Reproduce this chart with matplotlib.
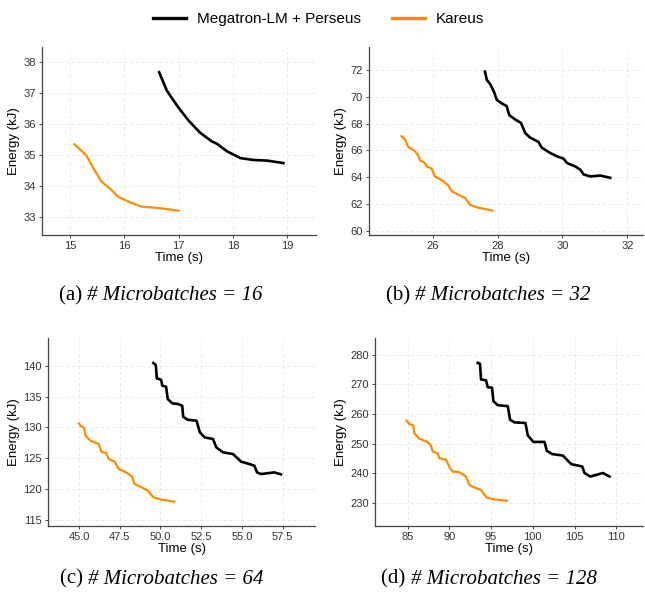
# energy vs. time frontier for four microbatch counts
import matplotlib
matplotlib.use("Agg")
import matplotlib.pyplot as plt
from matplotlib.lines import Line2D
import numpy as np

W, H = 645, 603

# (a) 16 microbatches
a_kar_t = [15.08, 15.30, 15.42, 15.57, 15.76, 15.88, 16.10, 16.31, 16.65, 16.99]
a_kar_e = [35.35, 34.98, 34.60, 34.15, 33.87, 33.65, 33.47, 33.33, 33.28, 33.20]
a_meg_t = [16.64, 16.78, 16.99, 17.18, 17.39, 17.61, 17.70, 17.89, 18.14, 18.38, 18.63, 18.93]
a_meg_e = [37.68, 37.09, 36.55, 36.12, 35.73, 35.44, 35.37, 35.12, 34.90, 34.84, 34.82, 34.74]

# (b) 32 microbatches
b_kar_t = [25.04, 25.15, 25.25, 25.45, 25.56, 25.61, 25.76, 25.81, 25.97, 26.07, 26.33,
           26.48, 26.59, 26.84, 27.00, 27.15, 27.36, 27.61, 27.84]
b_kar_e = [67.06, 66.81, 66.26, 65.96, 65.63, 65.26, 65.06, 64.81, 64.64, 64.06, 63.71,
           63.39, 62.96, 62.64, 62.46, 61.96, 61.76, 61.64, 61.51]
b_meg_t = [27.61, 27.67, 27.77, 27.89, 27.98, 28.13, 28.28, 28.36, 28.54, 28.72, 28.85,
           29.00, 29.26, 29.36, 29.62, 29.83, 30.03, 30.14, 30.39, 30.55, 30.65, 30.86,
           31.16, 31.47]
b_meg_e = [71.87, 71.25, 70.95, 70.37, 69.75, 69.50, 69.30, 68.63, 68.31, 68.05, 67.30,
           66.96, 66.63, 66.21, 65.81, 65.56, 65.39, 65.06, 64.81, 64.56, 64.21, 64.06,
           64.13, 63.96]

# (c) 64 microbatches
c_kar_t = [45.00, 45.10, 45.30, 45.41, 45.71, 46.22, 46.38, 46.67, 46.83, 47.20, 47.44,
           47.89, 48.25, 48.41, 48.86, 49.23, 49.57, 50.08, 50.85]
c_kar_e = [130.65, 130.27, 130.00, 128.65, 127.84, 127.30, 126.05, 125.84, 124.86, 124.43,
           123.24, 122.70, 122.05, 120.81, 120.27, 119.73, 118.65, 118.27, 117.95]
c_meg_t = [49.57, 49.72, 49.78, 50.04, 50.12, 50.35, 50.45, 50.73, 51.10, 51.34, 51.40,
           51.67, 52.22, 52.42, 52.72, 53.23, 53.43, 53.84, 54.45, 54.96, 55.47, 55.77,
           55.93, 56.18, 56.99, 57.40]
c_meg_e = [140.43, 140.10, 137.95, 137.73, 136.76, 136.60, 134.60, 133.90, 133.78, 133.51,
           131.73, 131.24, 131.08, 129.19, 128.38, 128.11, 126.76, 125.95, 125.68, 124.43,
           124.05, 123.78, 122.70, 122.43, 122.70, 122.38]

# (d) 128 microbatches
d_kar_t = [84.88, 85.20, 85.68, 85.80, 86.40, 87.40, 87.80, 88.00, 88.60, 88.80, 89.60,
           90.08, 90.40, 91.20, 92.00, 92.40, 93.20, 93.80, 94.48, 95.40, 96.88]
d_kar_e = [257.8, 256.7, 256.2, 253.6, 251.7, 250.6, 249.4, 247.4, 246.8, 245.1, 244.6,
           241.8, 240.6, 240.4, 238.9, 236.1, 235.0, 234.4, 231.8, 231.2, 230.7]
d_meg_t = [93.40, 93.68, 93.80, 94.40, 94.60, 95.12, 95.28, 95.80, 97.00, 97.28, 97.80,
           99.12, 99.40, 100.08, 101.40, 101.68, 102.32, 103.60, 104.60, 105.92, 106.20,
           106.88, 108.40, 109.20]
d_meg_e = [277.3, 277.0, 271.7, 271.4, 269.1, 268.9, 264.4, 263.0, 262.7, 258.1, 257.2,
           257.0, 252.8, 250.6, 250.6, 247.6, 246.5, 246.0, 243.1, 242.3, 240.1, 238.9,
           240.1, 238.9]

series_names = ["Megatron-LM + Perseus", "Kareus"]
colors = ["black", "#ff8c00"]
captions = ["(a) ", "(b) ", "(c) ", "(d) "]
microbatches = [16, 32, 64, 128]

plt.rcParams["font.family"] = "Liberation Sans"

fig = plt.figure(figsize=(W / 100, H / 100), dpi=100)


def add_ax(l, t, r, b):
    return fig.add_axes([l / W, 1 - b / H, (r - l) / W, (b - t) / H])


panels = [
    (add_ax(42, 47, 316, 235), a_meg_t, a_meg_e, a_kar_t, a_kar_e,
     (14.48, 19.53), (32.41, 38.5), np.arange(15, 20, 1), np.arange(33, 39, 1), "%d"),
    (add_ax(369, 47, 643, 235), b_meg_t, b_meg_e, b_kar_t, b_kar_e,
     (24.04, 32.48), (59.7, 73.7), np.arange(26, 33, 2), np.arange(60, 73, 2), "%d"),
    (add_ax(48, 338, 315, 526), c_meg_t, c_meg_e, c_kar_t, c_kar_e,
     (43.1, 59.49), (114.0, 144.5), np.arange(45, 58, 2.5), np.arange(115, 141, 5), "%.1f"),
    (add_ax(375, 338, 643, 526), d_meg_t, d_meg_e, d_kar_t, d_kar_e,
     (81.1, 113.2), (222.2, 285.7), np.arange(85, 111, 5), np.arange(230, 281, 10), "%d"),
]

for ax, mt, me, kt, ke, xl, yl, xt, yt, xfmt in panels:
    ax.plot(mt, me, color=colors[0], lw=1.9, solid_joinstyle="round")
    ax.plot(kt, ke, color=colors[1], lw=1.6, solid_joinstyle="round")
    ax.set_xlim(*xl)
    ax.set_ylim(*yl)
    ax.set_xticks(xt)
    ax.set_yticks(yt)
    ax.set_xticklabels([xfmt % v for v in xt])
    ax.grid(True, color="#e6e6e6", lw=0.6, ls=(0, (4, 3)))
    ax.set_axisbelow(True)
    for s in ["top", "right"]:
        ax.spines[s].set_visible(False)
    for s in ["left", "bottom"]:
        ax.spines[s].set_color("#444444")
        ax.spines[s].set_linewidth(0.9)
    ax.tick_params(length=2.5, width=0.7, color="#444444", labelsize=8,
                   labelcolor="#333333", pad=2)
    ax.set_xlabel("Time (s)", fontsize=9.5, labelpad=0.5)
    ax.set_ylabel("Energy (kJ)", fontsize=9.5, labelpad=2)

# legend across the top
handles = [Line2D([], [], color=c, lw=2.4) for c in colors]
fig.legend(handles, series_names, loc="center", bbox_to_anchor=(318.5 / W, 1 - 19 / H),
           ncol=2, frameon=False, fontsize=11, handlelength=2.2, handletextpad=0.7,
           columnspacing=2.0)

# subfigure captions: upright tag + italic body, centred as one line
renderer = fig.canvas.get_renderer()
cap_pos = [(161, 296), (488, 296), (162, 579), (489, 579)]
for tag, n, (xc, yc) in zip(captions, microbatches, cap_pos):
    t1 = fig.text(0, 0, tag, family="Liberation Serif", fontsize=15, va="center")
    t2 = fig.text(0, 0, f"# Microbatches = {n}", family="Liberation Serif",
                  style="italic", fontsize=15, va="center")
    w1 = t1.get_window_extent(renderer).width
    w2 = t2.get_window_extent(renderer).width
    x0 = xc - (w1 + w2) / 2
    t1.set_position((x0 / W, 1 - yc / H))
    t2.set_position(((x0 + w1) / W, 1 - yc / H))

fig.savefig("out.png", dpi=100)
